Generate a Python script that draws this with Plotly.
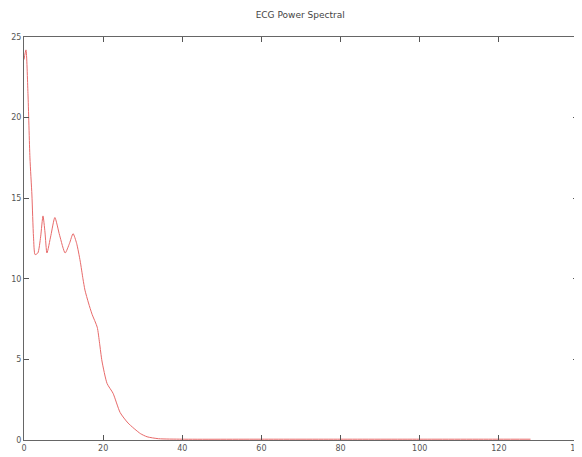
import plotly.graph_objects as go

# Frequency (Hz) and power values
freq = [0, 0.5, 1.0, 1.5, 2.0, 2.4, 2.8, 3.5, 4.2, 4.8, 5.3, 5.8, 6.8, 7.8, 9.0, 10.4,
        11.5, 12.4, 13.3, 14.2, 14.9, 15.4, 16.3, 17.2, 18.5, 19.1, 19.7, 21.0, 22.5,
        24.3, 26.3, 29.4, 31.1, 34, 40, 60, 80, 100, 120, 128]
power = [23.6, 24.2, 21.5, 17.5, 15.2, 12.6, 11.5, 11.6, 12.6, 13.9, 12.9, 11.6, 12.7, 13.8, 12.7, 11.6,
         12.2, 12.8, 12.2, 11.1, 10.0, 9.3, 8.5, 7.8, 7.0, 6.0, 4.9, 3.5, 2.9,
         1.7, 1.05, 0.4, 0.2, 0.08, 0.05, 0.05, 0.05, 0.05, 0.05, 0.05]

x_ticks = [0, 20, 40, 60, 80, 100, 120, 140]
y_ticks = [0, 5, 10, 15, 20, 25]

fig = go.Figure()
fig.add_trace(go.Scatter(
    x=freq, y=power, mode="lines",
    line=dict(color="#e86a6a", width=1, shape="spline", smoothing=0.6),
    showlegend=False,
))

axis_common = dict(
    showgrid=False, zeroline=False, showline=True, linecolor="#666666", linewidth=1,
    mirror="allticks", ticks="inside", ticklen=5, tickcolor="#555555", tickwidth=1,
    automargin=False, ticklabeloverflow="allow",
    tickfont=dict(family="DejaVu Sans", size=8, color="#555555"),
)
fig.update_xaxes(range=[0, 140], tickvals=x_ticks, **axis_common)
fig.update_yaxes(range=[0, 25], tickvals=y_ticks, **axis_common)

fig.update_layout(
    width=574, height=449,
    margin=dict(l=16, r=4, t=29, b=17),
    paper_bgcolor="white", plot_bgcolor="white",
    title=dict(text="ECG Power Spectral", x=0.509, xanchor="center", y=1 - 7 / 449, yanchor="middle",
               font=dict(family="DejaVu Sans", size=9, color="#444444")),
)

fig.write_html("out.html")
